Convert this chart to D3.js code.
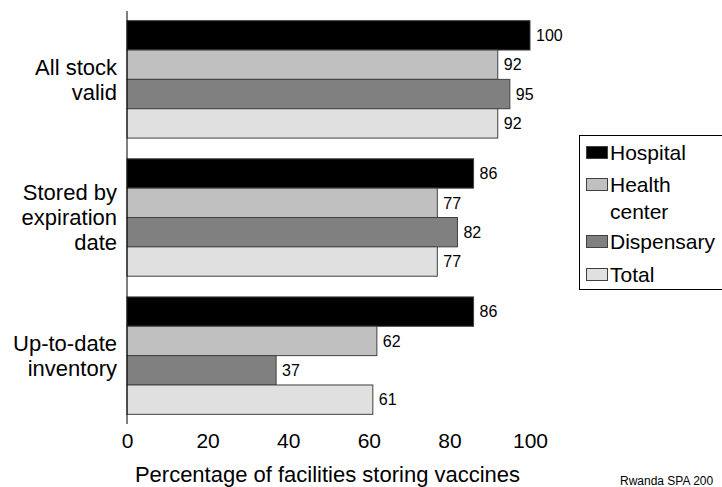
<!DOCTYPE html>
<html>
<head>
<meta charset="utf-8">
<script src="https://cdn.jsdelivr.net/npm/d3@7"></script>
<style>
  html, body { margin: 0; padding: 0; background: #fff; }
  svg { display: block; font-family: "Liberation Sans", Arial, sans-serif; }
</style>
</head>
<body>
<svg id="chart" width="722" height="487"></svg>
<script>
// Vaccine storage practices by facility type
const categories = [["All stock", "valid"], ["Stored by", "expiration", "date"], ["Up-to-date", "inventory"]];
const categoryKeys = ["All stock valid", "Stored by expiration date", "Up-to-date inventory"];
const seriesNames = ["Hospital", "Health center", "Dispensary", "Total"];
const seriesLegendLines = [["Hospital"], ["Health", "center"], ["Dispensary"], ["Total"]];
const seriesColors = ["#000000", "#c0c0c0", "#808080", "#e0e0e0"];
const hospital = [100, 86, 86];
const healthCenter = [92, 77, 62];
const dispensary = [95, 82, 37];
const total = [92, 77, 61];
const xTicks = [0, 20, 40, 60, 80, 100];
const xTitle = "Percentage of facilities storing vaccines";
const sourceNote = "Rwanda SPA 200";

const seriesValues = [hospital, healthCenter, dispensary, total];

const svg = d3.select("#chart");

const x = d3.scaleLinear().domain([0, 100]).range([127, 530]);
const y0 = d3.scaleBand().domain(categoryKeys).range([11, 424]).paddingInner(0.15).paddingOuter(0.07);
const y1 = d3.scaleBand().domain(seriesNames).range([0, y0.bandwidth()]);

// Bars with value labels
const groups = svg.append("g").selectAll("g")
  .data(categoryKeys)
  .join("g")
  .attr("transform", d => `translate(0,${y0(d)})`);

groups.each(function(cat, ci) {
  const g = d3.select(this);
  seriesNames.forEach((s, si) => {
    const v = seriesValues[si][ci];
    g.append("rect")
      .attr("x", x(0))
      .attr("y", y1(s))
      .attr("width", x(v) - x(0))
      .attr("height", y1.bandwidth())
      .attr("fill", seriesColors[si])
      .attr("stroke", "#404040")
      .attr("stroke-width", 1);
    g.append("text")
      .attr("x", x(v) + 6)
      .attr("y", y1(s) + y1.bandwidth() / 2)
      .attr("dy", "0.36em")
      .attr("font-size", 16)
      .attr("fill", "#000")
      .text(v);
  });
});

// Vertical axis line
svg.append("line")
  .attr("x1", x(0)).attr("x2", x(0))
  .attr("y1", 11).attr("y2", 424)
  .attr("stroke", "#000").attr("stroke-width", 1);

// Category labels
categories.forEach((lines, ci) => {
  const cy = y0(categoryKeys[ci]) + y0.bandwidth() / 2;
  const lh = 25;
  const t = svg.append("text")
    .attr("text-anchor", "end")
    .attr("font-size", 22)
    .attr("fill", "#000");
  lines.forEach((ln, li) => {
    t.append("tspan")
      .attr("x", 117)
      .attr("y", cy + (li - (lines.length - 1) / 2) * lh)
      .attr("dy", "0.35em")
      .text(ln);
  });
});

// X tick labels
const xAxis = d3.axisBottom(x).tickValues(xTicks).tickSize(0).tickPadding(0);
const ax = svg.append("g").attr("transform", "translate(0,448)").call(xAxis);
ax.select(".domain").remove();
ax.selectAll("text")
  .attr("font-size", 21)
  .attr("font-family", "Liberation Sans, Arial, sans-serif")
  .attr("fill", "#000")
  .attr("y", 0)
  .attr("dy", 0);

// X title
svg.append("text")
  .attr("x", 327.5)
  .attr("y", 482)
  .attr("text-anchor", "middle")
  .attr("font-size", 22)
  .attr("fill", "#000")
  .text(xTitle);

// Legend
const legend = svg.append("g");
legend.append("rect")
  .attr("x", 579.5).attr("y", 135.5)
  .attr("width", 160).attr("height", 154)
  .attr("fill", "#fff")
  .attr("stroke", "#000").attr("stroke-width", 1);

const legendY = [153, 185, 242, 275];
seriesNames.forEach((s, i) => {
  legend.append("rect")
    .attr("x", 586.5).attr("y", legendY[i] - 6.5)
    .attr("width", 21).attr("height", 12)
    .attr("fill", seriesColors[i])
    .attr("stroke", "#404040").attr("stroke-width", 1);
  const t = legend.append("text")
    .attr("font-size", 21)
    .attr("fill", "#000");
  seriesLegendLines[i].forEach((ln, li) => {
    t.append("tspan")
      .attr("x", 610)
      .attr("y", legendY[i] + li * 27)
      .attr("dy", "0.35em")
      .text(ln);
  });
});

// Source note
svg.append("text")
  .attr("x", 620)
  .attr("y", 485)
  .attr("font-size", 12)
  .attr("fill", "#000")
  .text(sourceNote);
</script>
</body>
</html>
